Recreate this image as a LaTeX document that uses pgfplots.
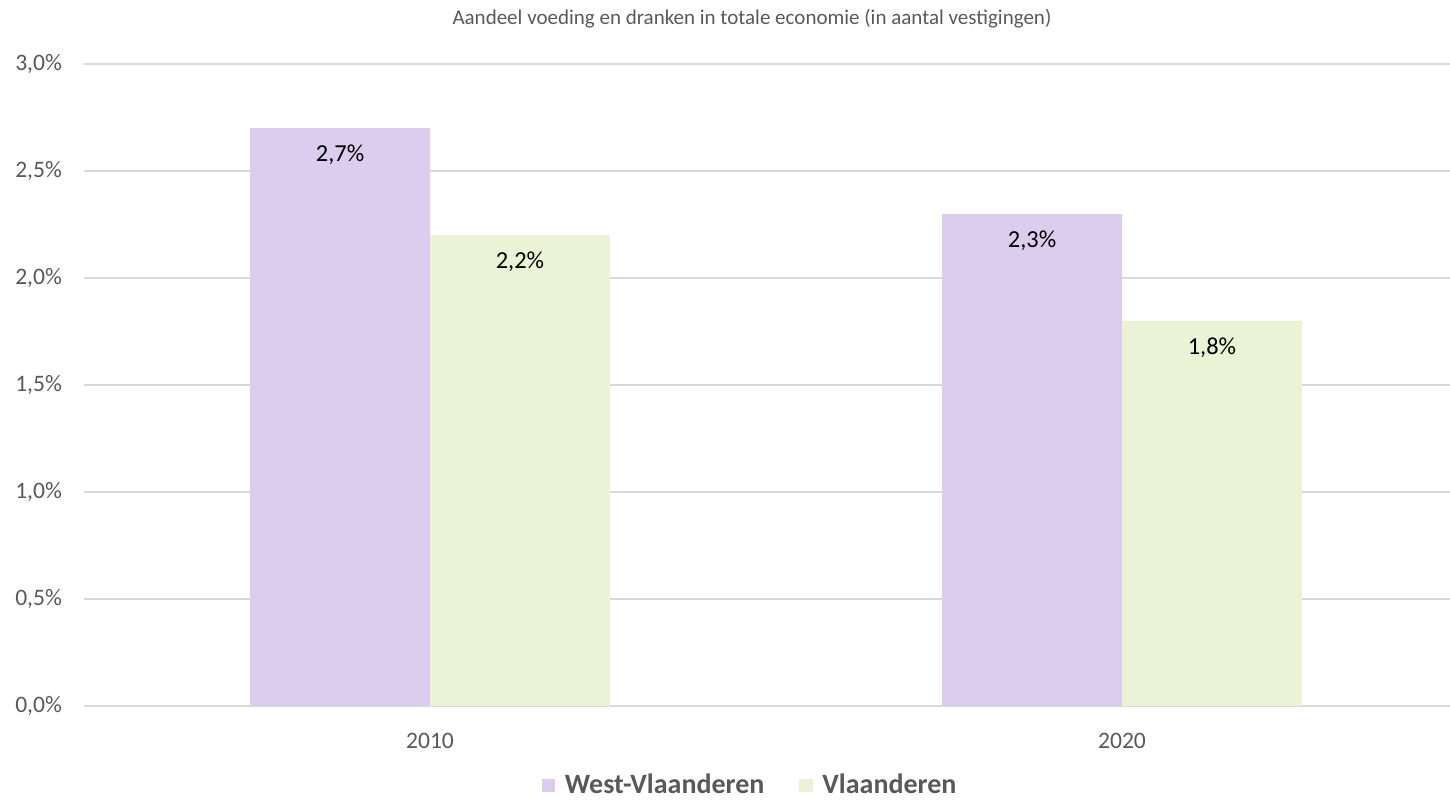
\documentclass[border=0pt]{standalone}
\usepackage{pgfplots}
\pgfplotsset{compat=1.18}
\usepackage{fontspec}
\setmainfont{Carlito}
\definecolor{wv}{HTML}{DCCDEF}
\definecolor{vl}{HTML}{ECF2D6}
\definecolor{txt}{HTML}{595959}
\definecolor{gridc}{HTML}{D9D9D9}
\begin{document}
\begin{tikzpicture}
\path[use as bounding box] (-42pt,-47.5pt) rectangle (683pt,353pt);
\begin{axis}[
  at={(0,0)}, anchor=south west,
  scale only axis, width=683pt, height=321pt,
  xmin=-0.5, xmax=1.474, ymin=0, ymax=3,
  axis line style={draw=none},
  major tick length=0pt,
  xtick={0,1}, xticklabels={2010,2020},
  ytick={0,0.5,1,1.5,2,2.5,3},
  yticklabels={{0,0\%},{0,5\%},{1,0\%},{1,5\%},{2,0\%},{2,5\%},{3,0\%}},
  ymajorgrids, grid style={gridc, line width=1pt},
  tick label style={font=\fontsize{11.8pt}{14pt}\selectfont, text=txt},
  yticklabel style={xshift=-7.5pt},
  xticklabel style={yshift=-10pt},
  /pgf/number format/assume math mode=true,
  ybar, bar width=0.26,
  nodes near coords={\pgfmathprintnumber[fixed,precision=1,fixed zerofill,use comma]{\pgfplotspointmeta}\%},
  nodes near coords style={anchor=center, yshift=-13.5pt, font=\fontsize{12.2pt}{14pt}\selectfont, text=black},
  legend columns=2,
  legend style={at={(0.488,-0.1235)}, anchor=center, draw=none, fill=none,
    font=\fontsize{14pt}{16pt}\selectfont\bfseries, text=txt,
    nodes={inner sep=1.5pt},
    /tikz/every even column/.append style={column sep=16pt},
    inner sep=0pt},
  legend image code/.code={\fill[#1] (0pt,-3.3pt) rectangle (6.6pt,3.3pt); \path (10pt,0pt);},
  clip=false,
]
\addplot[fill=wv, draw=none, bar shift=-0.13] coordinates {(0,2.7) (1,2.3)};
\addplot[fill=vl, draw=none, bar shift=0.13] coordinates {(0,2.2) (1,1.8)};
\legend{West-Vlaanderen,Vlaanderen}
\node[font=\fontsize{10.5pt}{12pt}\selectfont, text=txt] at (rel axis cs:0.489,1) [yshift=22.5pt] {Aandeel voeding en dranken in totale economie (in aantal vestigingen)};
\end{axis}
\end{tikzpicture}
\end{document}
